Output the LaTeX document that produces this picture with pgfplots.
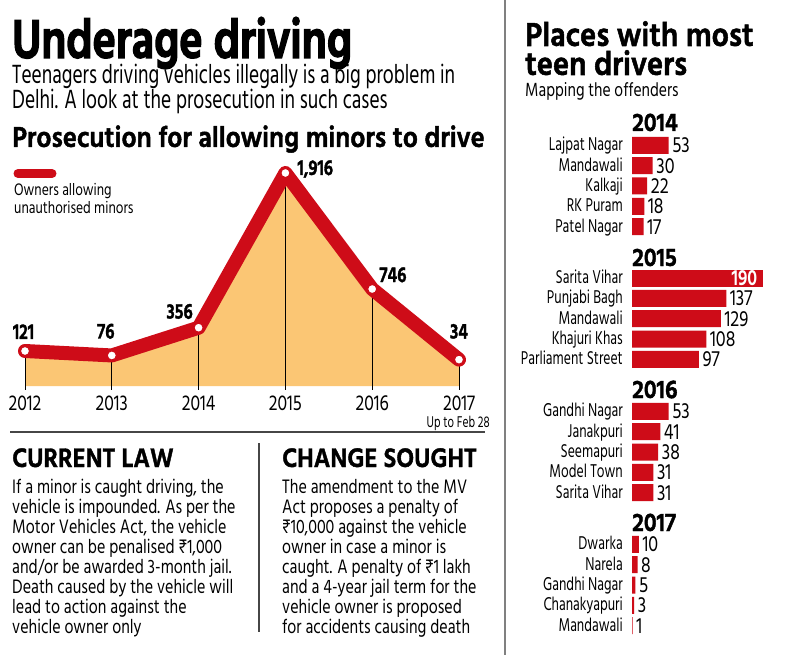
\documentclass[border=0pt]{standalone}
\usepackage{pgfplots}
\pgfplotsset{compat=1.18}
\usepackage{fontspec}
\setmainfont{Hind Madurai}[FakeStretch=0.72]
\newfontfamily\bodyf{Hind Madurai}[FakeStretch=0.8]
\newfontfamily\titlef{Hind Madurai}[FakeStretch=0.79]
\newfontfamily\headf{Hind Madurai}[FakeStretch=0.9]
\newcommand\sz[2]{\fontsize{#1pt}{#2pt}\selectfont}
\newcommand\heavy{\bfseries\addfontfeature{FakeBold=1.5}}
\definecolor{hred}{RGB}{206,12,24}
\definecolor{hfill}{RGB}{251,198,116}
\definecolor{rule}{RGB}{70,70,70}

\begin{document}
\begin{tikzpicture}[every node/.style={inner sep=0pt}]
\fill[white] (0,0) rectangle (800pt,-655pt);

% ---------- left panel: headings ----------
\node[anchor=base west] at (12pt,-58pt) {\titlef\sz{56}{60}\bfseries\addfontfeature{FakeBold=2.4}Underage driving};
\node[anchor=base west] at (12pt,-84pt) {\sz{27}{30}Teenagers driving vehicles illegally is a big problem in};
\node[anchor=base west] at (12pt,-109pt) {\sz{27}{30}Delhi. A look at the prosecution in such cases};
\node[anchor=base west] at (12pt,-147pt) {\headf\sz{29.6}{32}\heavy Prosecution for allowing minors to drive};

% legend key
\draw[hred, line width=9pt, line cap=round] (18pt,-173.5pt) -- (52pt,-173.5pt);
\node[anchor=base west] at (14pt,-196pt) {\bodyf\sz{17}{20}Owners allowing};
\node[anchor=base west] at (14pt,-213pt) {\bodyf\sz{17}{20}unauthorised minors};

% ---------- line chart ----------
\begin{axis}[
  at={(25pt,-386pt)}, anchor=south west,
  x=86.8pt, y=0.09916pt,
  xmin=2012, xmax=2017, ymin=-232, ymax=2000,
  axis line style={draw=none}, major tick length=0pt,
  xtick={2012,2013,2014,2015,2016,2017},
  xticklabels={2012,2013,2014,2015,2016,2017},
  xticklabel style={anchor=base, yshift=-24pt, font=\bodyf\sz{22}{24}},
  ytick=\empty, clip=false,
]
\addplot[fill=hfill, draw=none] coordinates {
  (2012,-232) (2012,121) (2013,76) (2014,356) (2015,1916) (2016,746) (2017,34) (2017,-232)} -- cycle;
\addplot[black, line width=0.9pt] coordinates {(2012,-272) (2012,121)};
\addplot[black, line width=0.9pt] coordinates {(2013,-272) (2013,76)};
\addplot[black, line width=0.9pt] coordinates {(2014,-272) (2014,356)};
\addplot[black, line width=0.9pt] coordinates {(2015,-272) (2015,1916)};
\addplot[black, line width=0.9pt] coordinates {(2016,-272) (2016,746)};
\addplot[black, line width=0.9pt] coordinates {(2017,-272) (2017,34)};
\addplot[hred, line width=14pt, line join=round, line cap=round,
  mark=*, mark size=4.6pt, mark options={fill=white, draw=hred, line width=1.2pt}]
  coordinates {(2012,121) (2013,76) (2014,356) (2015,1916) (2016,746) (2017,34)};
\node[anchor=base, xshift=-1.5pt, yshift=12pt] at (axis cs:2012,121) {\titlef\sz{22}{24}\heavy 121};
\node[anchor=base, xshift=-6pt, yshift=17pt] at (axis cs:2013,76) {\titlef\sz{22}{24}\heavy 76};
\node[anchor=base, xshift=-19pt, yshift=9pt] at (axis cs:2014,356) {\titlef\sz{22}{24}\heavy 356};
\node[anchor=base west, xshift=12pt, yshift=-2pt] at (axis cs:2015,1916) {\titlef\sz{22}{24}\heavy 1,916};
\node[anchor=base west, xshift=7pt, yshift=7pt] at (axis cs:2016,746) {\titlef\sz{22}{24}\heavy 746};
\node[anchor=base, yshift=21pt] at (axis cs:2017,34) {\titlef\sz{22}{24}\heavy 34};
\end{axis}
\node[anchor=base east] at (490pt,-427pt) {\sz{16}{18}Up to Feb 28};

% ---------- rules ----------
\draw[rule, line width=1.8pt] (10pt,-432pt) -- (485pt,-432pt);
\draw[gray, line width=1.3pt] (505pt,0pt) -- (505pt,-655pt);
\draw[rule, line width=1.3pt] (259pt,-443pt) -- (259pt,-632pt);

% ---------- law text ----------
\node[anchor=base west] at (12pt,-467pt) {\headf\sz{27.4}{30}\heavy CURRENT LAW};
\node[anchor=base west] at (282pt,-467pt) {\headf\sz{27.4}{30}\heavy CHANGE SOUGHT};
\begin{scope}[every node/.append style={anchor=base west, font=\bodyf\sz{20}{22}}]
\node at (12pt,-493pt) {If a minor is caught driving, the};
\node at (12pt,-513pt) {vehicle is impounded. As per the};
\node at (12pt,-533pt) {Motor Vehicles Act, the vehicle};
\node at (12pt,-553pt) {owner can be penalised ₹1,000};
\node at (12pt,-573pt) {and/or be awarded 3-month jail.};
\node at (12pt,-593pt) {Death caused by the vehicle will};
\node at (12pt,-613pt) {lead to action against the};
\node at (12pt,-633pt) {vehicle owner only};
\node at (282pt,-493pt) {The amendment to the MV};
\node at (282pt,-513pt) {Act proposes a penalty of};
\node at (282pt,-533pt) {₹10,000 against the vehicle};
\node at (282pt,-553pt) {owner in case a minor is};
\node at (282pt,-573pt) {caught. A penalty of ₹1 lakh};
\node at (282pt,-593pt) {and a 4-year jail term for the};
\node at (282pt,-613pt) {vehicle owner is proposed};
\node at (282pt,-633pt) {for accidents causing death};
\end{scope}

% ---------- right panel ----------
\node[anchor=base west] at (525pt,-46pt) {\headf\sz{34}{36}\heavy Places with most};
\node[anchor=base west] at (525pt,-75pt) {\headf\sz{34}{36}\heavy teen drivers};
\node[anchor=base west] at (525pt,-97pt) {\bodyf\sz{19.5}{22}Mapping the offenders};
\node[anchor=base west] at (632pt,-131pt) {\headf\sz{26}{28}\heavy 2014};
\node[anchor=base west] at (632pt,-266pt) {\headf\sz{26}{28}\heavy 2015};
\node[anchor=base west] at (632pt,-398pt) {\headf\sz{26}{28}\heavy 2016};
\node[anchor=base west] at (632pt,-531pt) {\headf\sz{26}{28}\heavy 2017};

\begin{axis}[
  at={(632pt,-655pt)}, anchor=south west,
  x=0.6895pt, y=1pt,
  xmin=0, xmax=240, ymin=-655, ymax=0,
  axis line style={draw=none}, major tick length=0pt,
  xtick=\empty,
  ytick={-625.7,-605.4,-585,-564.7,-544.3,
         -492.7,-472.4,-452,-431.7,-411.3,
         -359.4,-339.1,-318.7,-298.4,-278,
         -226.7,-206.4,-186,-165.7,-145.3},
  yticklabels={Mandawali,Chanakyapuri,Gandhi Nagar,Narela,Dwarka,
               Sarita Vihar,Model Town,Seemapuri,Janakpuri,Gandhi Nagar,
               Parliament Street,Khajuri Khas,Mandawali,Punjabi Bagh,Sarita Vihar,
               Patel Nagar,RK Puram,Kalkaji,Mandawali,Lajpat Nagar},
  yticklabel style={anchor=base east, inner sep=0pt, xshift=-9pt, yshift=-5.5pt, font=\sz{19}{21}},
  clip=false,
  /pgf/number format/assume math mode=true,
  every node near coord/.append style={font=\bodyf\sz{22.5}{24}, inner sep=0pt, xshift=3.5pt},
]
% 2014
\addplot[xbar, bar width=17pt, fill=hred, draw=none, nodes near coords] coordinates {
  (53,-145.3) (30,-165.7) (22,-186) (18,-206.4) (17,-226.7)};
% 2015
\addplot[xbar, bar width=17pt, fill=hred, draw=none, nodes near coords,
  every node near coord/.append style={anchor=east, xshift=-9pt, font=\bodyf\sz{22.5}{24}\bfseries\color{white}}] coordinates {
  (190,-278)};
\addplot[xbar, bar width=17pt, fill=hred, draw=none, nodes near coords] coordinates {
  (137,-298.4) (129,-318.7) (108,-339.1) (97,-359.4)};
% 2016
\addplot[xbar, bar width=17pt, fill=hred, draw=none, nodes near coords] coordinates {
  (53,-411.3) (41,-431.7) (38,-452) (31,-472.4) (31,-492.7)};
% 2017
\addplot[xbar, bar width=17pt, fill=hred, draw=none, nodes near coords] coordinates {
  (10,-544.3) (8,-564.7) (5,-585) (3,-605.4) (1,-625.7)};
\end{axis}

\pgfresetboundingbox
\path (0,0) rectangle (800pt,-655pt);
\end{tikzpicture}
\end{document}
